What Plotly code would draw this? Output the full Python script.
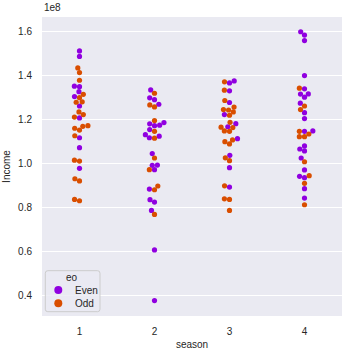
import numpy as np
import re
import plotly.graph_objects as go

# ---- data (Income in units of 1e8) ----
seasons = ["1", "2", "3", "4"]
hue_names = ["Even", "Odd"]
colors = {"Even": "#9000E0", "Odd": "#D94E00"}

income_s1 = [1.510, 1.485, 1.433, 1.412, 1.377, 1.348, 1.350, 1.325, 1.313, 1.303, 1.298,
             1.277, 1.279, 1.260, 1.233, 1.221, 1.210, 1.206, 1.171, 1.168, 1.159, 1.151,
             1.125, 1.116, 1.071, 1.014, 1.010, 0.977, 0.930, 0.920, 0.836, 0.830]
eo_s1 = ["Even", "Even", "Odd", "Odd", "Odd", "Even", "Even", "Even", "Odd", "Even", "Odd",
         "Odd", "Odd", "Even", "Odd", "Odd", "Odd", "Even", "Odd", "Odd", "Odd", "Odd",
         "Odd", "Even", "Even", "Odd", "Odd", "Even", "Odd", "Odd", "Odd", "Odd"]

income_s2 = [1.333, 1.318, 1.297, 1.289, 1.265, 1.268, 1.256, 1.194, 1.179, 1.171, 1.173,
             1.185, 1.153, 1.145, 1.130, 1.116, 1.114, 1.123, 1.044, 1.024, 0.991, 0.992,
             0.971, 0.971, 0.897, 0.880, 0.883, 0.835, 0.824, 0.786, 0.768, 0.607, 0.377]
eo_s2 = ["Even", "Odd", "Even", "Even", "Odd", "Even", "Odd", "Odd", "Even", "Even", "Even",
         "Even", "Even", "Odd", "Even", "Even", "Odd", "Even", "Even", "Odd", "Even", "Even",
         "Even", "Odd", "Odd", "Odd", "Even", "Even", "Even", "Even", "Odd", "Even", "Even"]

income_s3 = [1.370, 1.365, 1.374, 1.332, 1.329, 1.285, 1.276, 1.255, 1.244, 1.242, 1.233,
             1.221, 1.218, 1.186, 1.180, 1.166, 1.162, 1.164, 1.147, 1.145, 1.098, 1.106,
             1.112, 1.088, 1.025, 1.036, 1.012, 0.980, 0.898, 0.892, 0.839, 0.836, 0.786]
eo_s3 = ["Odd", "Even", "Even", "Odd", "Even", "Odd", "Even", "Odd", "Odd", "Odd", "Odd",
         "Even", "Odd", "Odd", "Even", "Even", "Odd", "Odd", "Odd", "Odd", "Odd", "Odd",
         "Even", "Odd", "Odd", "Even", "Odd", "Even", "Odd", "Even", "Odd", "Odd", "Odd"]

income_s4 = [1.597, 1.582, 1.557, 1.398, 1.341, 1.338, 1.314, 1.315, 1.300, 1.273, 1.260,
             1.244, 1.230, 1.203, 1.145, 1.145, 1.147, 1.133, 1.121, 1.121, 1.079, 1.065,
             1.056, 1.024, 1.007, 0.970, 0.941, 0.935, 0.944, 0.909, 0.885, 0.842, 0.812]
eo_s4 = ["Even", "Even", "Even", "Even", "Odd", "Even", "Even", "Even", "Even", "Even", "Odd",
         "Odd", "Even", "Even", "Even", "Odd", "Even", "Odd", "Odd", "Odd", "Even", "Even",
         "Even", "Even", "Odd", "Even", "Even", "Even", "Odd", "Odd", "Even", "Even", "Odd"]

y_ticks = [0.4, 0.6, 0.8, 1.0, 1.2, 1.4, 1.6]

incomes = [income_s1, income_s2, income_s3, income_s4]
eos = [eo_s1, eo_s2, eo_s3, eo_s4]

# ---- layout geometry ----
W, H = 353, 353
ML, MR, MT, MB = 42, 11, 17, 37
PW, PH = W - ML - MR, H - MT - MB
Y_RANGE = [0.307, 1.664]
X_RANGE = [-0.5, 3.5]
px_per_y = PH / (Y_RANGE[1] - Y_RANGE[0])
px_per_x = PW / (X_RANGE[1] - X_RANGE[0])
R = 2.45  # marker radius in px
MSIZE = 5.2


def beeswarm(values):
    """seaborn-like beeswarm; returns x offsets (px) in original order"""
    vals = np.asarray(values) * px_per_y
    order = np.argsort(vals, kind="stable")
    placed = []
    offs = np.zeros(len(vals))
    for idx in order:
        y_i = vals[idx]
        neighbors = []
        for (xj, yj) in reversed(placed):
            if (y_i - yj) < 2 * R:
                neighbors.append((xj, yj))
            else:
                break
        neighbors = neighbors[::-1]
        cands = [0.0]
        left_first = True
        for (xj, yj) in neighbors:
            dy = y_i - yj
            dx = np.sqrt(max((2 * R) ** 2 - dy ** 2, 0)) * 1.05
            if left_first:
                cands += [xj - dx, xj + dx]
            else:
                cands += [xj + dx, xj - dx]
            left_first = not left_first
        cands = np.array(cands)
        cands = cands[np.argsort(np.abs(cands), kind="stable")]
        chosen = cands[-1]
        for c in cands:
            ok = True
            for (xj, yj) in neighbors:
                if (c - xj) ** 2 + (y_i - yj) ** 2 < (2 * R) ** 2 - 1e-6:
                    ok = False
                    break
            if ok:
                chosen = c
                break
        placed.append((chosen, y_i))
        offs[idx] = chosen
    return offs


fig = go.Figure()
for k, (vals, eo) in enumerate(zip(incomes, eos)):
    offs = beeswarm(vals)
    xs = k + offs / px_per_x
    for h in hue_names:
        sel = [i for i, e in enumerate(eo) if e == h]
        fig.add_trace(go.Scatter(
            x=[xs[i] for i in sel], y=[vals[i] for i in sel], mode="markers",
            marker=dict(size=MSIZE, color=colors[h], line=dict(width=0)),
            showlegend=False, hoverinfo="skip"))

TXT = "#262626"
FONT = "Arial, Liberation Sans, sans-serif"

fig.update_layout(
    width=W, height=H,
    margin=dict(l=ML, r=MR, t=MT, b=MB, autoexpand=False),
    paper_bgcolor="white", plot_bgcolor="#EAEAF2",
    font=dict(family=FONT, size=10, color=TXT),
    showlegend=False,
    xaxis=dict(range=X_RANGE, tickmode="array", tickvals=[0, 1, 2, 3], ticktext=seasons,
               showgrid=False, zeroline=False, showline=False, automargin=False,
               ticks="outside", ticklen=6, tickcolor="rgba(0,0,0,0)",
               title=dict(text="season", standoff=4, font=dict(size=10))),
    yaxis=dict(range=Y_RANGE, tickmode="array", tickvals=y_ticks,
               ticktext=[f"{t:.1f}" for t in y_ticks], automargin=False,
               showgrid=True, gridcolor="white", gridwidth=1, zeroline=False, showline=False,
               ticks="outside", ticklen=7, tickcolor="rgba(0,0,0,0)",
               title=dict(text="Income", standoff=5, font=dict(size=10))),
)

fig.add_annotation(text="1e8", xref="paper", yref="paper", x=0, y=1, xanchor="left",
                   yanchor="bottom", yshift=2, showarrow=False, font=dict(size=10, color=TXT))


# ---- legend (drawn manually to match matplotlib spacing) ----
def px2paper(px, py):
    return (px - ML) / PW, (MT + PH - py) / PH


lx0, ly0, lx1, ly1 = 45.3, 270.7, 100.0, 311.7
rr = 2.5
path = (f"M {lx0+rr},{ly0} L {lx1-rr},{ly0} Q {lx1},{ly0} {lx1},{ly0+rr} "
        f"L {lx1},{ly1-rr} Q {lx1},{ly1} {lx1-rr},{ly1} L {lx0+rr},{ly1} "
        f"Q {lx0},{ly1} {lx0},{ly1-rr} L {lx0},{ly0+rr} Q {lx0},{ly0} {lx0+rr},{ly0} Z")


def conv(m):
    a, b = float(m.group(1)), float(m.group(2))
    xp, yp = px2paper(a, b)
    return f"{xp:.5f},{yp:.5f}"


path_p = re.sub(r"(-?[\d.]+),(-?[\d.]+)", conv, path)
fig.add_shape(type="path", path=path_p, xref="paper", yref="paper",
              fillcolor="rgba(234,234,242,0.8)", line=dict(color="#CCCCCC", width=1))

tx, ty = px2paper(71.5, 277.7)
fig.add_annotation(text="eo", xref="paper", yref="paper", x=tx, y=ty, showarrow=False,
                   xanchor="center", yanchor="middle", font=dict(size=10, color=TXT))
for h, yy in zip(hue_names, [290.0, 303.3]):
    cx, cy = 58.3, yy
    x0, y0 = px2paper(cx - 4, cy + 4)
    x1, y1 = px2paper(cx + 4, cy - 4)
    fig.add_shape(type="circle", xref="paper", yref="paper", x0=x0, y0=y0, x1=x1, y1=y1,
                  fillcolor=colors[h], line=dict(width=0))
    ax_, ay_ = px2paper(73.3, yy)
    fig.add_annotation(text=h, xref="paper", yref="paper", x=ax_, y=ay_, showarrow=False,
                       xanchor="left", yanchor="middle", font=dict(size=10, color=TXT))

fig.write_html("out.html")
